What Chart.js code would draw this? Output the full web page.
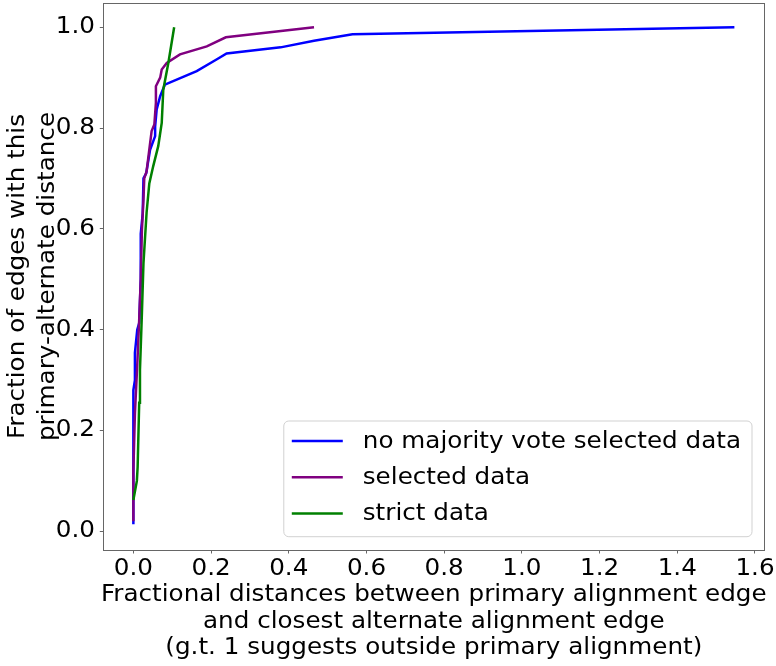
<!DOCTYPE html>
<html><head><meta charset="utf-8">
<script src="https://cdn.jsdelivr.net/npm/chart.js@4/dist/chart.umd.min.js"></script>
<style>html,body{margin:0;padding:0;background:#fff;}</style>
</head><body>
<canvas id="c" width="776" height="666"></canvas>
<script>
// ---- data ----
const seriesNames = ["no majority vote selected data", "selected data", "strict data"];
const seriesColors = ["#0000ff", "#800080", "#008000"];

const blueX = [0, 0, 0.004, 0.004, 0.010, 0.015, 0.019, 0.019, 0.024, 0.026, 0.033, 0.043, 0.056, 0.056, 0.060, 0.069, 0.081, 0.163, 0.214, 0.240, 0.379, 0.465, 0.564, 1.547];
const blueY = [0.014, 0.28, 0.30, 0.354, 0.40, 0.413, 0.50, 0.59, 0.63, 0.70, 0.71, 0.757, 0.784, 0.803, 0.837, 0.863, 0.886, 0.913, 0.936, 0.948, 0.960, 0.973, 0.986, 1.0];

const purpleX = [0, 0, 0.004, 0.010, 0.015, 0.019, 0.022, 0.026, 0.028, 0.034, 0.041, 0.047, 0.054, 0.058, 0.058, 0.069, 0.073, 0.086, 0.120, 0.189, 0.238, 0.465];
const purpleY = [0.02, 0.12, 0.234, 0.33, 0.42, 0.50, 0.598, 0.658, 0.70, 0.714, 0.757, 0.794, 0.807, 0.85, 0.883, 0.90, 0.916, 0.929, 0.946, 0.962, 0.980, 1.0];

const greenX = [0, 0.009, 0.011, 0.015, 0.017, 0.022, 0.026, 0.034, 0.041, 0.051, 0.064, 0.073, 0.077, 0.090, 0.105];
const greenY = [0.062, 0.10, 0.128, 0.255, 0.32, 0.433, 0.532, 0.632, 0.69, 0.724, 0.764, 0.81, 0.876, 0.929, 1.0];

const xTicks = [0, 0.2, 0.4, 0.6, 0.8, 1.0, 1.2, 1.4, 1.6];
const yTicks = [0, 0.2, 0.4, 0.6, 0.8, 1.0];
const xTitle = ["Fractional distances between primary alignment edge", "and closest alternate alignment edge", "(g.t. 1 suggests outside primary alignment)"];
const yTitle = ["Fraction of edges with this", "primary-alternate distance"];

// ---- build ----
const FS = 22.5;          // font size (glyph height)
const SX = 1.095;         // text is slightly wider along its run in the reference
const FAMILY = "'DejaVu Sans'";
const FONT = {family: FAMILY, size: FS, lineHeight: 1.2};

const canvas = document.getElementById('c');
const c2d = canvas.getContext('2d');
const origFill = c2d.fillText;
c2d.fillText = function (t, x, y) {
  this.save(); this.translate(x, y); this.scale(SX, 1); origFill.call(this, t, 0, 0); this.restore();
};

const pts = (xs, ys) => xs.map((x, i) => ({x: x, y: ys[i]}));
const allX = [blueX, purpleX, greenX], allY = [blueY, purpleY, greenY];
const datasets = seriesNames.map((n, i) => ({
  label: n, data: pts(allX[i], allY[i]), borderColor: seriesColors[i], backgroundColor: seriesColors[i],
  borderWidth: 2.5, pointRadius: 0, tension: 0, fill: false, order: 3 - i
}));

const framePlugin = {
  id: 'frame',
  afterDraw(chart) {
    const {ctx, chartArea: a} = chart;
    ctx.save();
    ctx.strokeStyle = '#666'; ctx.lineWidth = 1;
    ctx.strokeRect(Math.round(a.left) + 0.5, Math.round(a.top) + 0.5, Math.round(a.right - a.left), Math.round(a.bottom - a.top));
    // legend (bottom right, inside the axes)
    ctx.font = FS + "px " + FAMILY;
    let tw = 0;
    chart.data.datasets.forEach(d => { tw = Math.max(tw, ctx.measureText(d.label).width * SX); });
    const w = 79 + tw + 11, h = 115.7, pitch = 36.2;
    const x0 = a.right - 12.3 - w, y0 = a.bottom - 13.3 - h;
    ctx.beginPath();
    ctx.roundRect(x0, y0, w, h, 5);
    ctx.fillStyle = 'rgba(255,255,255,0.8)';
    ctx.fill();
    ctx.strokeStyle = 'rgba(204,204,204,0.9)'; ctx.lineWidth = 1;
    ctx.stroke();
    chart.data.datasets.forEach((d, i) => {
      const cy = y0 + 20 + i * pitch;
      ctx.beginPath();
      ctx.moveTo(x0 + 8, cy); ctx.lineTo(x0 + 59, cy);
      ctx.strokeStyle = d.borderColor; ctx.lineWidth = 2.5; ctx.stroke();
      ctx.fillStyle = '#000'; ctx.textBaseline = 'middle'; ctx.textAlign = 'left';
      ctx.fillText(d.label, x0 + 79, cy + 1);
    });
    ctx.restore();
  }
};

new Chart(canvas, {
  type: 'line',
  data: {datasets: datasets},
  plugins: [framePlugin],
  options: {
    responsive: false, animation: false, devicePixelRatio: 1,
    layout: {padding: {top: 3, right: 11.7, bottom: 0, left: 0}},
    plugins: {legend: {display: false}, tooltip: {enabled: false}},
    scales: {
      x: {
        type: 'linear', min: -0.0774, max: 1.624,
        afterBuildTicks: s => { s.ticks = xTicks.map(v => ({value: v})); },
        afterFit: s => { s.height = 116; s.paddingLeft = 0; s.paddingRight = 0; },
        ticks: {font: FONT, color: '#000', padding: 2, maxRotation: 0, minRotation: 0, autoSkip: false, callback: v => Number(v).toFixed(1)},
        grid: {drawOnChartArea: false, tickLength: 3.5, tickColor: '#666', tickWidth: 1},
        border: {display: false},
        title: {display: true, text: xTitle, font: {family: FAMILY, size: FS, lineHeight: 26.4 / FS}, color: '#000', padding: {top: 0, bottom: 4.5}}
      },
      y: {
        type: 'linear', min: -0.037, max: 1.048,
        afterBuildTicks: s => { s.ticks = yTicks.map(v => ({value: v})); },
        afterFit: s => { s.width = 103.3; s.paddingTop = 0; s.paddingBottom = 0; },
        ticks: {font: FONT, color: '#000', padding: 4.8, autoSkip: false, callback: v => Number(v).toFixed(1)},
        grid: {drawOnChartArea: false, tickLength: 3.5, tickColor: '#666', tickWidth: 1},
        border: {display: false},
        title: {display: true, text: yTitle, font: {family: FAMILY, size: FS, lineHeight: 30 / FS}, color: '#000', padding: {top: 3, bottom: 0}}
      }
    }
  }
});
</script>
</body></html>
